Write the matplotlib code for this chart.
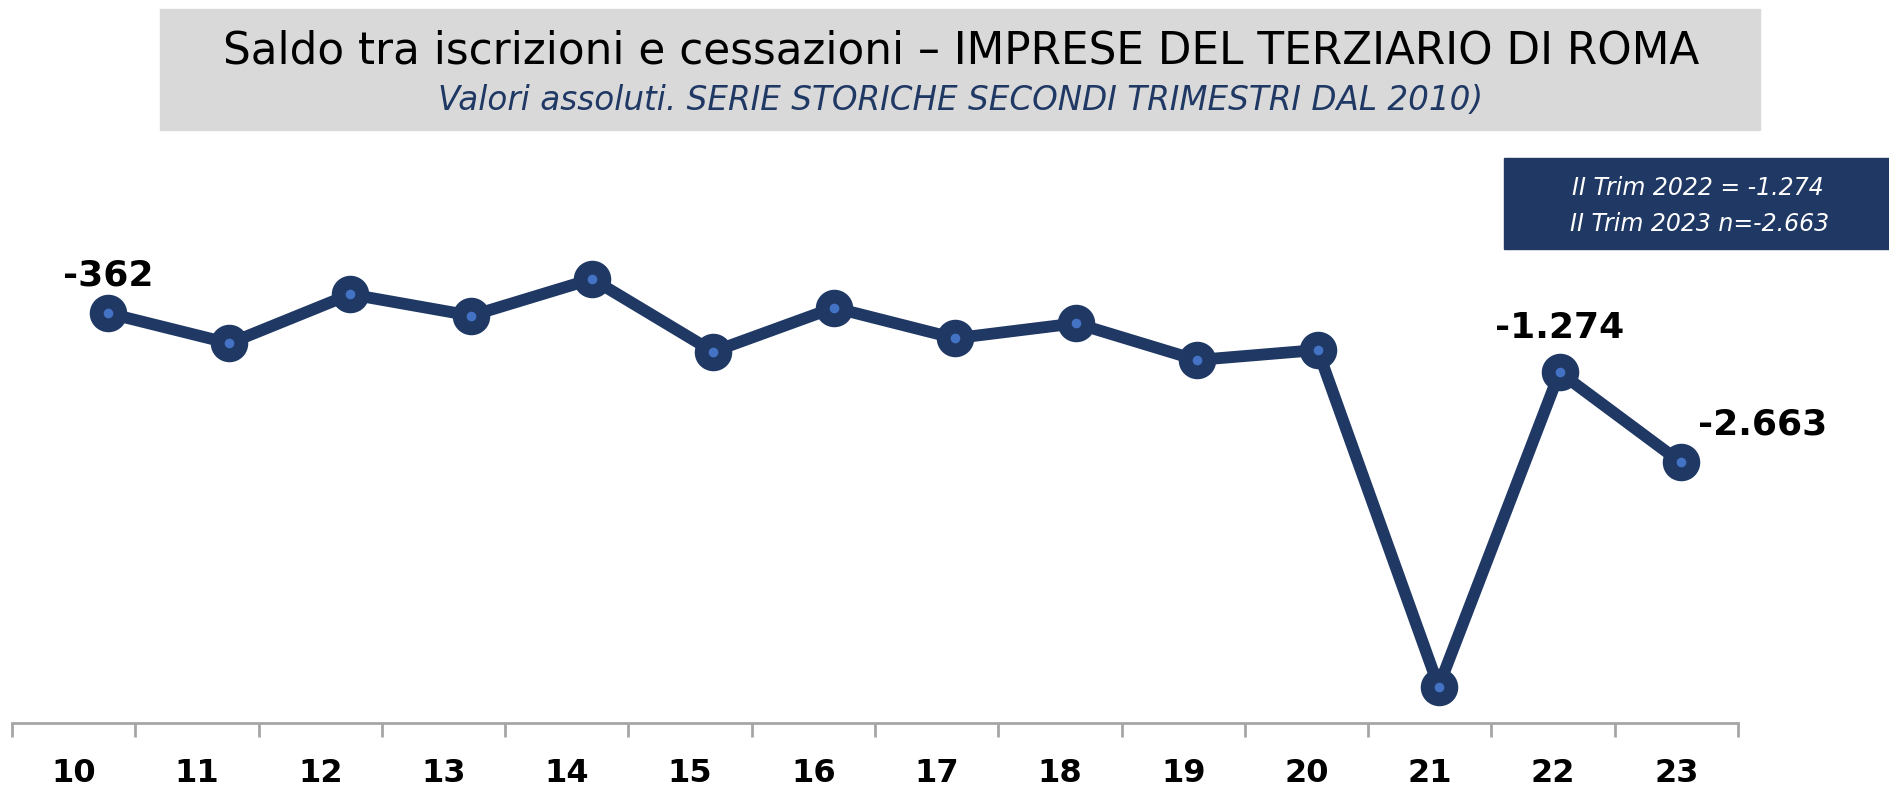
import matplotlib.pyplot as plt
from matplotlib.patches import Rectangle

# saldo iscrizioni - cessazioni, II trimestre di ogni anno
anni = ['10', '11', '12', '13', '14', '15', '16', '17', '18', '19', '20', '21', '22', '23']
saldo = [-362, -826, -68, -399, 168, -955, -275, -748, -517, -1084, -929, -6133, -1274, -2663]
etichette = {0: '-362', 12: '-1.274', 13: '-2.663'}

navy = '#1F3864'
light_blue = '#4472C4'

W, H = 1890, 789
fig = plt.figure(figsize=(W / 100, H / 100), dpi=100)

# title box
fig.patches.append(Rectangle((160 / W, 1 - 130 / H), 1600 / W, 121 / H,
                             transform=fig.transFigure, color='#D9D9D9', zorder=0))
fig.text(961 / W, 1 - 51 / H, 'Saldo tra iscrizioni e cessazioni \u2013 IMPRESE DEL TERZIARIO DI ROMA',
         ha='center', va='center', fontsize=31.5, color='black', fontfamily='DejaVu Sans')
fig.text(961 / W, 1 - 101 / H, 'Valori assoluti. SERIE STORICHE SECONDI TRIMESTRI DAL 2010)',
         ha='center', va='center', fontsize=23.5, color=navy, style='italic')

# info box
fig.patches.append(Rectangle((1504 / W, 1 - 249 / H), 386 / W, 91 / H,
                             transform=fig.transFigure, color=navy, zorder=0))
fig.text(1698 / W, 1 - 188 / H, 'II Trim 2022 = -1.274', ha='center', va='center',
         fontsize=17, color='white', style='italic')
fig.text(1700 / W, 1 - 224 / H, 'II Trim 2023 n=-2.663', ha='center', va='center',
         fontsize=17, color='white', style='italic')

# category axis
ax2 = fig.add_axes([12 / W, 1 - 723 / H, 1726 / W, 0.001])
ax2.set_xlim(-0.5, len(anni) - 0.5)
ax2.set_ylim(0, 1)
for s in ['top', 'left', 'right']:
    ax2.spines[s].set_visible(False)
ax2.spines['bottom'].set_color('#A6A6A6')
ax2.spines['bottom'].set_linewidth(2)
ax2.set_yticks([])
ax2.set_xticks([i - 0.5 for i in range(len(anni) + 1)], minor=False)
ax2.set_xticklabels([])
ax2.tick_params(axis='x', which='major', length=10, width=2, color='#A6A6A6', direction='out')
ax2.set_xticks(range(len(anni)), minor=True)
ax2.set_xticklabels(anni, minor=True, fontsize=23, fontweight='heavy')
ax2.tick_params(axis='x', which='minor', length=0, pad=25)
ax2.patch.set_visible(False)

# line
ax = fig.add_axes([108.5 / W, 0, 1572 / W, 1])
ax.set_xlim(0, len(anni) - 1)
ax.set_ylim(-7714, 4480)
ax.axis('off')
x = list(range(len(anni)))
ax.plot(x, saldo, color=navy, linewidth=8.5, marker='o', markersize=17,
        markerfacecolor=light_blue, markeredgecolor=navy, markeredgewidth=10,
        clip_on=False, zorder=3)

offsets = {0: (0, 27), 12: (0, 32), 13: (59, 27)}
for i, txt in etichette.items():
    ax.annotate(txt, (x[i], saldo[i]), xytext=offsets[i], textcoords='offset points',
                ha='center', va='center', fontsize=26, fontweight='bold', color='black')

fig.savefig('out.png', dpi=100)
